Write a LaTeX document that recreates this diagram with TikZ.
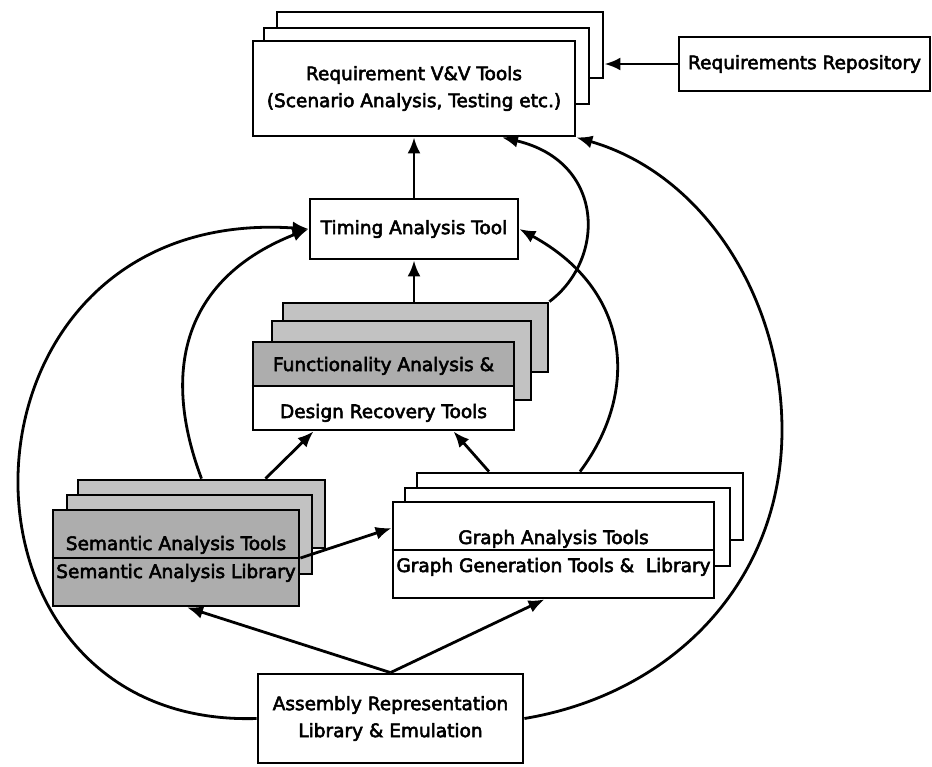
\documentclass[tikz,border=0pt]{standalone}
\usepackage{fontspec}
\setmainfont{DejaVu Sans}[RawFeature={embolden=3}]
\usetikzlibrary{arrows.meta}
\usetikzlibrary{positioning}
\usetikzlibrary{calc}

\begin{document}
\begin{tikzpicture}[>={Latex[length=16pt,width=13pt]},x=1pt,y=-1pt,line width=2.8pt,
    font=\fontsize{18.5}{27}\selectfont]
 \tikzstyle{tool node}=[rectangle,draw,fill=white,inner sep=0,align=center]
 \tikzstyle{back node}=[rectangle,draw,fill=white,inner sep=0]
 \tikzstyle{grey back node}=[rectangle,draw,fill=black!24,inner sep=0]
 \tikzset{
   grey node/.style={rectangle,draw,fill=black!32,inner sep=0},
   half grey node/.style={rectangle,draw,fill=white,inner sep=0,
     path picture={\fill[black!32] (path picture bounding box.north west)
       rectangle (path picture bounding box.east);}},
   label node/.style={anchor=base,inner sep=0}
 }

 \useasboundingbox (0,0) rectangle (932,766);

       % requirement tools (three sheets)
       \node[back node,minimum width=326,minimum height=66] (rvv3) at (440,45) {};
       \node[back node,minimum width=325,minimum height=76] (rvv2) at (426.5,66) {};
       \node[tool node,minimum width=322,minimum height=95] (rvv) at (414,88.5)
            {Requirement V\&V Tools\\(Scenario Analysis, Testing etc.)};
       \node[tool node,minimum width=251,minimum height=54] (rr) at (804.5,64) {Requirements Repository};

       \node[tool node,minimum width=208,minimum height=60] (tim) at (414,229) {Timing Analysis Tool};

       % functionality / design recovery
       \node[grey back node,minimum width=265,minimum height=69] (fda3) at (415.5,337.5) {};
       \node[grey back node,minimum width=259,minimum height=79] (fda2) at (401.5,360.5) {};
       \node[half grey node,minimum width=261,minimum height=88] (fda) at (383.5,386) {};
       \draw (fda.west) -- (fda.east);
       \node[label node] (fdat) at ($(fda)+(0,-15)$) {Functionality Analysis \&};
       \node[label node] (fdab) at ($(fda)+(0,32)$) {Design Recovery Tools};

       % semantic analysis
       \node[grey back node,minimum width=247,minimum height=68] (sem3) at (201.5,514) {};
       \node[grey back node,minimum width=245,minimum height=79] (sem2) at (189.5,534.5) {};
       \node[grey node,minimum width=246,minimum height=96] (sem) at (176,558) {};
       \draw (sem.west) -- (sem.east);
       \node[label node] (semt) at ($(sem)+(0,-8)$) {Semantic Analysis Tools};
       \node[label node] (semb) at ($(sem)+(0,20)$) {Semantic Analysis Library};

       % graph analysis
       \node[back node,minimum width=326,minimum height=67] (gra3) at (580,506.5) {};
       \node[back node,minimum width=325,minimum height=78] (gra2) at (567.5,527) {};
       \node[back node,minimum width=321,minimum height=96] (gra) at (553.5,550) {};
       \draw (gra.west) -- (gra.east);
       \node[label node] (grat) at ($(gra)+(0,-6)$) {Graph Analysis Tools};
       \node[label node] (grab) at ($(gra)+(0,22)$) {Graph Generation Tools \&~ Library};

       \node[tool node,minimum width=265,minimum height=89] (asm) at (390.5,718.5)
            {Assembly Representation\\Library \& Emulation};

       \coordinate (rbend) at (782,430);

     \path[->] (rr.west) edge (rr.west -| rvv3.east);
     \path[->] (tim) edge (rvv);
     \path[->] (tim.south |- fda3.north) edge (tim);
     \path[->] ($(sem3.north)+(64,0)$) edge ($(fda.south)+(-70,0)$);
     \path[->] ($(gra3.north)+(-91,0)$) edge ($(fda.south)+(70,0)$);
     \path[->] (sem.east) edge ($(gra.west)+(0,-22)$);
     \path[->] (asm.north) edge ($(sem.south)+(11,0)$);
     \path[->] (asm.north) edge ($(gra.south)+(-9,0)$);

     \draw[->] (sem3.north) .. controls +(-45,-120) and +(-115,45) .. (tim.west);
     \draw[->] (gra3.north) .. controls +(60,-80) and +(112,61) .. (tim.east);
     \draw[->] (fda3.north east) .. controls +(57,-43) and +(103,24) .. ($(rvv.south)+(88,0)$);
     \draw[->] (asm.west) .. controls +(-330,10) and +(-370,-25) .. (tim.west);
     \draw[->] (asm.east) .. controls +(150,-25) and +(0,150) .. (rbend)
                          .. controls +(0,-131) and +(128,37) .. (rvv.south east);
 ;
\end{tikzpicture}
\end{document}
